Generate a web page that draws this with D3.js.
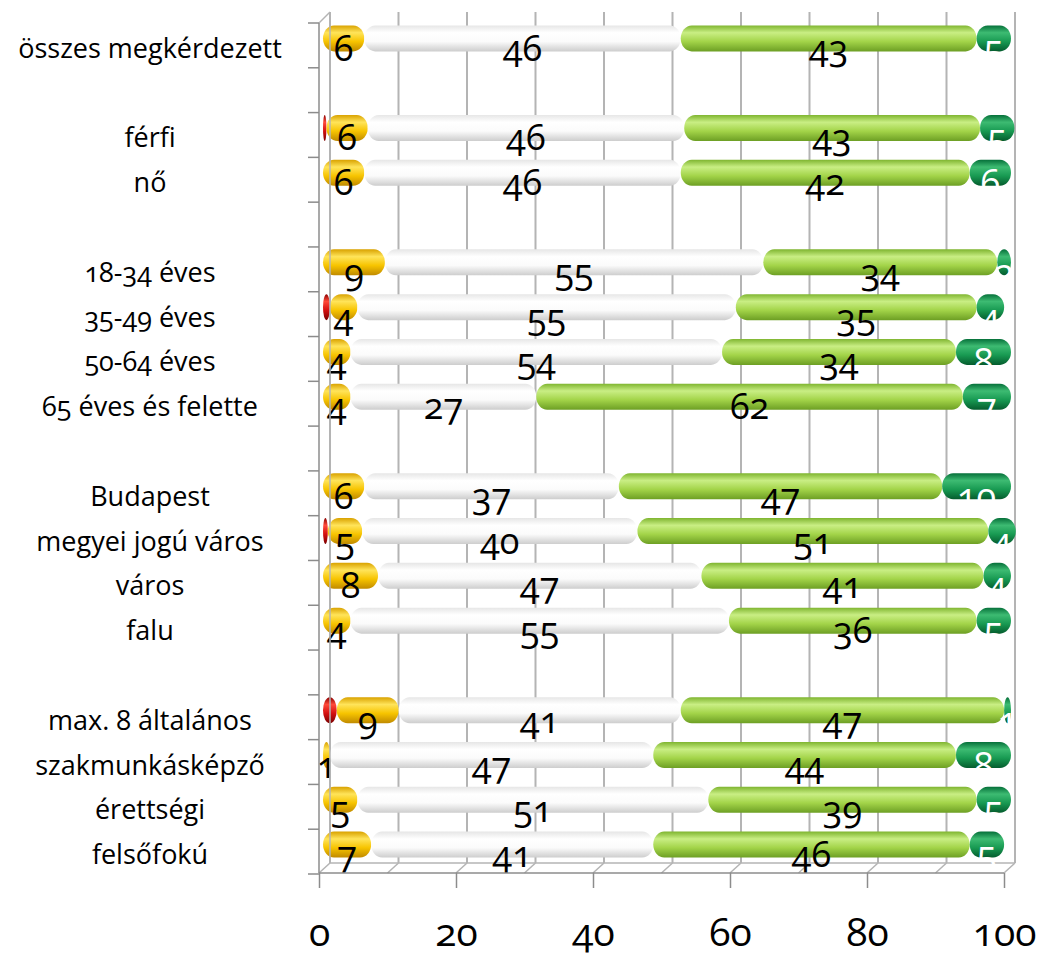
<!DOCTYPE html>
<html>
<head>
<meta charset="utf-8">
<script src="https://cdn.jsdelivr.net/npm/d3@7"></script>
<style>
  body { margin: 0; background: #fff; }
  svg text { font-family: "Open Sans", "Lato", sans-serif; font-variant-numeric: oldstyle-nums; }
</style>
</head>
<body>
<div class="mainviz"></div>
<script>
var categories = ["összes megkérdezett", "", "férfi", "nő", "",
	"18-34 éves", "35-49 éves", "50-64 éves", "65 éves és felette", "",
	"Budapest", "megyei jogú város", "város", "falu", "",
	"max. 8 általános", "szakmunkásképző", "érettségi", "felsőfokú"];

var red    = [0, null, 0.5, 0, null, 0, 1, 0, 0, null, 0, 0.7, 0, 0, null, 2, 0, 0, 0];
var yellow = [6, null, 6, 6, null, 9, 4, 4, 4, null, 6, 5, 8, 4, null, 9, 1, 5, 7];
var white  = [46, null, 46, 46, null, 55, 55, 54, 27, null, 37, 40, 47, 55, null, 41, 47, 51, 41];
var lgreen = [43, null, 43, 42, null, 34, 35, 34, 62, null, 47, 51, 41, 36, null, 47, 44, 39, 46];
var dgreen = [5, null, 5, 6, null, 2, 4, 8, 7, null, 10, 4, 4, 5, null, 1, 8, 5, 5];

var xTicks = [0, 20, 40, 60, 80, 100];

var seriesKeys = ["red", "yellow", "white", "lgreen", "dgreen"];
var seriesVals = { red: red, yellow: yellow, white: white, lgreen: lgreen, dgreen: dgreen };

var width = 1042, height = 957;

var svg = d3.select(".mainviz").append("svg")
	.attr("width", width)
	.attr("height", height);

// gradients for the cylinder look
var grads = {
	red:    ["#8a0000", "#ff4a3a", "#d41010", "#7a0000"],
	yellow: ["#d9a200", "#ffe45a", "#f7c400", "#c08a00"],
	white:  ["#e6e6e6", "#ffffff", "#fbfbfb", "#cdcdcd"],
	lgreen: ["#7fb530", "#c9ee84", "#a3d449", "#6d9f24"],
	dgreen: ["#06703a", "#3dbb72", "#189a52", "#055c2e"]
};
var defs = svg.append("defs");
seriesKeys.forEach(function(k){
	var g = defs.append("linearGradient")
		.attr("id", "g_" + k)
		.attr("x1", 0).attr("y1", 0).attr("x2", 0).attr("y2", 1);
	g.append("stop").attr("offset", "0%").attr("stop-color", grads[k][0]);
	g.append("stop").attr("offset", "28%").attr("stop-color", grads[k][1]);
	g.append("stop").attr("offset", "62%").attr("stop-color", grads[k][2]);
	g.append("stop").attr("offset", "100%").attr("stop-color", grads[k][3]);
});

// scales: front plane, back wall, and the bars in between
var xFront = d3.scaleLinear().domain([0, 100]).range([319, 1004]);
var xBack = d3.scaleLinear().domain([0, 100]).range([330, 1015]);
var xBar = d3.scaleLinear().domain([0, 100]).range([323, 1011]);

var idx = categories.map(function(d, i){ return i; });
var y = d3.scaleBand().domain(idx).range([23, 874]);
var backTop = 12, backBottom = 863;
var depthY = 11;

var gridColor = "#b4b4b4";

// back wall gridlines
svg.append("g").selectAll("line")
	.data(d3.range(0, 101, 10))
	.enter().append("line")
	.attr("x1", function(d){ return xBack(d); })
	.attr("x2", function(d){ return xBack(d); })
	.attr("y1", backTop)
	.attr("y2", backBottom)
	.attr("stroke", gridColor)
	.attr("stroke-width", 2);

// floor: back edge, front edge and diagonals
svg.append("line")
	.attr("x1", xBack(0)).attr("x2", xBack(100))
	.attr("y1", backBottom).attr("y2", backBottom)
	.attr("stroke", gridColor).attr("stroke-width", 1.5);
svg.append("g").selectAll("line")
	.data(d3.range(0, 101, 10))
	.enter().append("line")
	.attr("x1", function(d){ return xFront(d); })
	.attr("x2", function(d){ return xBack(d); })
	.attr("y1", backBottom + 10)
	.attr("y2", backBottom)
	.attr("stroke", gridColor)
	.attr("stroke-width", 1.5);

// left side wall
svg.append("line")
	.attr("x1", xFront(0)).attr("x2", xBack(0))
	.attr("y1", backTop + depthY).attr("y2", backTop)
	.attr("stroke", gridColor).attr("stroke-width", 1.5);

// bars
var rows = svg.append("g").selectAll("g.row")
	.data(idx.filter(function(i){ return white[i] !== null; }))
	.enter().append("g")
	.attr("class", "row");

var barH = 26;
var barShift = -7;

rows.each(function(i){
	var g = d3.select(this);
	var cum = 0;
	var cy = y(i) + y.bandwidth() / 2 + barShift;
	var segs = [];
	seriesKeys.forEach(function(k){
		var v = seriesVals[k][i];
		segs.push({ key: k, v: v, x0: cum, x1: cum + v });
		cum += v;
	});
	segs.forEach(function(s){
		if (s.v <= 0) return;
		var w = xBar(s.x1) - xBar(s.x0);
		g.append("rect")
			.attr("x", xBar(s.x0))
			.attr("y", cy - barH / 2)
			.attr("width", w)
			.attr("height", barH)
			.attr("rx", Math.min(11, w / 2))
			.attr("ry", barH / 2)
			.attr("fill", "url(#g_" + s.key + ")");
	});
	segs.forEach(function(s){
		if (s.v <= 0 || s.key == "red") return;
		g.append("text")
			.attr("x", xBar((s.x0 + s.x1) / 2))
			.attr("y", y(i) + y.bandwidth() / 2 + 2)
			.attr("dominant-baseline", "central")
			.attr("text-anchor", "middle")
			.attr("font-size", 36)
			.attr("fill", s.key == "dgreen" ? "#ffffff" : "#000000")
			.text(s.v);
	});
});

// front axis frame
var axisColor = "#8c8c8c";
svg.append("line")
	.attr("x1", xFront(0)).attr("x2", xFront(0))
	.attr("y1", backTop + depthY).attr("y2", backBottom + 10)
	.attr("stroke", axisColor).attr("stroke-width", 1.5);
svg.append("line")
	.attr("x1", xFront(0)).attr("x2", xFront(100))
	.attr("y1", backBottom + 10).attr("y2", backBottom + 10)
	.attr("stroke", axisColor).attr("stroke-width", 1.5);
svg.append("line")
	.attr("x1", xBack(0)).attr("x2", xBack(0))
	.attr("y1", backTop).attr("y2", backBottom)
	.attr("stroke", gridColor).attr("stroke-width", 1.5);

// y tick marks at row boundaries
svg.append("g").selectAll("line")
	.data(idx.concat([categories.length]))
	.enter().append("line")
	.attr("x1", xFront(0) - 11)
	.attr("x2", xFront(0))
	.attr("y1", function(i){ return i < categories.length ? y(i) : y.range()[1]; })
	.attr("y2", function(i){ return i < categories.length ? y(i) : y.range()[1]; })
	.attr("stroke", axisColor).attr("stroke-width", 1.5);

// category labels
svg.append("g").selectAll("text")
	.data(idx.filter(function(i){ return categories[i] != ""; }))
	.enter().append("text")
	.attr("x", 150)
	.attr("y", function(i){ return y(i) + y.bandwidth() / 2 + 2; })
	.attr("dominant-baseline", "central")
	.attr("text-anchor", "middle")
	.attr("font-size", 27)
	.attr("fill", "#000")
	.text(function(i){ return categories[i]; });

// x axis ticks and labels
var xAxis = d3.axisBottom(xFront).tickValues(xTicks).tickSize(15).tickPadding(30);
var ax = svg.append("g")
	.attr("transform", "translate(0," + (backBottom + 10) + ")")
	.call(xAxis);
ax.select(".domain").remove();
ax.selectAll(".tick line").attr("stroke", axisColor).attr("stroke-width", 1.5);
ax.selectAll(".tick text")
	.attr("font-size", 39)
	.attr("fill", "#000")
	.style("font-family", "'Open Sans', sans-serif");
</script>
</body>
</html>
